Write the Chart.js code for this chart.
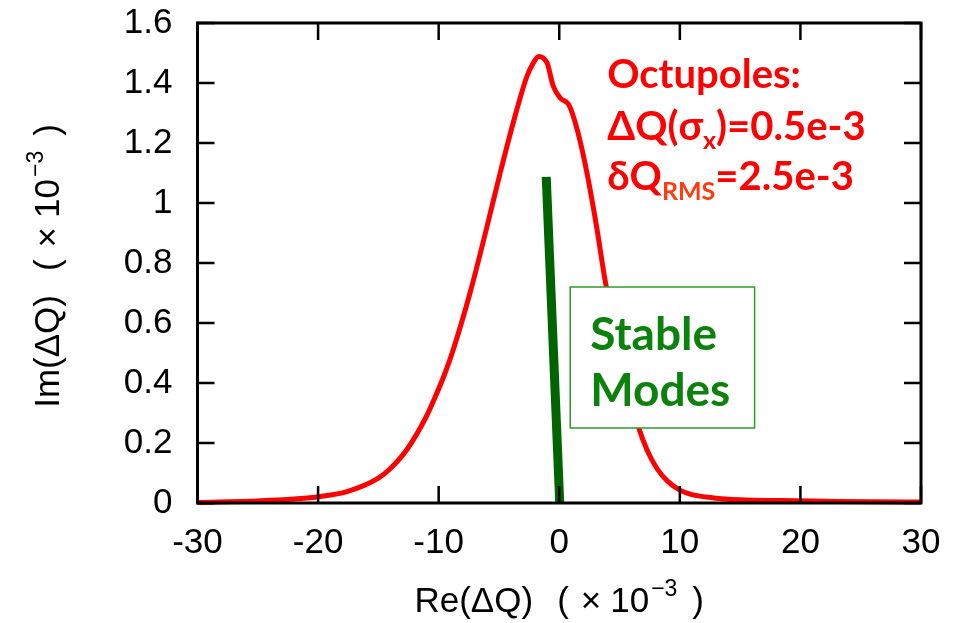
<!DOCTYPE html>
<html lang="en">
<head>
<meta charset="UTF-8">
<title>Octupole stability diagram</title>
<script src="https://cdn.jsdelivr.net/npm/chart.js@4.4.0/dist/chart.umd.min.js"></script>
<style>
  html, body { margin: 0; padding: 0; background: #fff; }
  #wrap { width: 961px; height: 623px; }
</style>
</head>
<body>
<div id="wrap"><canvas id="myChart"></canvas></div>
<script>
// stability boundary, Re / Im of dQ (x 1e-3)
var reDQ = [-30, -25, -22, -20, -17.6, -15, -14, -12.6, -11, -10.4, -9.5, -8.8, -7.4, -6.0, -4.9, -3.8, -2.7,
            -2.2, -1.7, -1.35, -1.0, -0.5, 0.1, 0.8, 1.5, 2.3, 3.1, 3.8, 4.5, 5.5, 6.6, 7.3, 8.1, 9.0, 10.0, 11.0,
            12.8, 15.0, 18.3, 22, 26, 30];
var imDQ = [0.002, 0.007, 0.013, 0.021, 0.038, 0.083, 0.115, 0.18, 0.29, 0.343, 0.43, 0.51, 0.70, 0.92, 1.10, 1.27, 1.42,
            1.463, 1.488, 1.484, 1.466, 1.39, 1.349, 1.327, 1.243, 1.10, 0.92, 0.743, 0.60, 0.42, 0.25, 0.175, 0.115, 0.072, 0.043, 0.028,
            0.017, 0.011, 0.008, 0.006, 0.004, 0.003];

// stable modes line
var modeRe = [-1.08, 0.04];
var modeIm = [1.087, 0];

var xTicks = [-30, -20, -10, 0, 10, 20, 30];
var yTicks = [0, 0.2, 0.4, 0.6, 0.8, 1, 1.2, 1.4, 1.6];

function pts(xs, ys) {
    return xs.map(function (x, i) { return { x: x, y: ys[i] }; });
}

var SANS = '"Liberation Sans", Arial, sans-serif';
var BOLD = 'Lato, "Open Sans", sans-serif';

// text runs drawn one after another (gap = extra space before the run)
function runWidth(ctx, runs) {
    var w = 0;
    runs.forEach(function (r) { ctx.font = r.font; w += (r.gap || 0) + ctx.measureText(r.t).width; });
    return w;
}
function drawRuns(ctx, x, y, runs) {
    runs.forEach(function (r) {
        x += r.gap || 0;
        ctx.font = r.font;
        ctx.fillStyle = r.color || '#000';
        ctx.fillText(r.t, x, y + (r.dy || 0));
        x += ctx.measureText(r.t).width;
    });
}
function axisTitle(name) {
    var big = '35px ' + SANS, small = '23px ' + SANS;
    return [{ t: name, font: big }, { t: '(', font: big, gap: 24 }, { t: '\u00d7', font: big, gap: 12 },
            { t: '10', font: big, gap: 9 }, { t: '\u22123', font: small, dy: -16, gap: 2 }, { t: ')', font: big, gap: 15 }];
}

var extras = {
    id: 'extras',
    afterDraw: function (chart) {
        var ctx = chart.ctx, a = chart.chartArea;
        var xs = chart.scales.x, ys = chart.scales.y;
        ctx.save();
        ctx.textBaseline = 'alphabetic';
        ctx.textAlign = 'left';

        // frame + inward ticks on all sides
        ctx.strokeStyle = '#000';
        ctx.lineWidth = 3;
        ctx.strokeRect(a.left, a.top, a.right - a.left, a.bottom - a.top);
        var tl = 17;
        ctx.lineWidth = 2.5;
        ctx.beginPath();
        xTicks.forEach(function (v) {
            var p = xs.getPixelForValue(v);
            ctx.moveTo(p, a.bottom); ctx.lineTo(p, a.bottom - tl);
            ctx.moveTo(p, a.top); ctx.lineTo(p, a.top + tl);
        });
        yTicks.forEach(function (v) {
            var p = ys.getPixelForValue(v);
            ctx.moveTo(a.left, p); ctx.lineTo(a.left + tl, p);
            ctx.moveTo(a.right, p); ctx.lineTo(a.right - tl, p);
        });
        ctx.stroke();

        // axis titles
        var xt = axisTitle('Re(\u0394Q)');
        var w = runWidth(ctx, xt);
        drawRuns(ctx, (a.left + a.right) / 2 - w / 2, 612, xt);

        var yt = axisTitle('Im(\u0394Q)');
        w = runWidth(ctx, yt);
        ctx.save();
        ctx.translate(59, 266);
        ctx.rotate(-Math.PI / 2);
        drawRuns(ctx, -w / 2, 0, yt);
        ctx.restore();

        // Octupoles note
        var red = '#ff0000', f = 'bold 40px ' + BOLD, fs = 'bold 25px ' + BOLD;
        var nx = xs.getPixelForValue(3.98);
        drawRuns(ctx, nx, ys.getPixelForValue(1.383), [{ t: 'Octupoles:', font: f, color: red }]);
        drawRuns(ctx, nx, ys.getPixelForValue(1.21), [
            { t: '\u0394Q(\u03c3', font: f, color: red },
            { t: 'x', font: fs, color: red, dy: 9 },
            { t: ')=0.5e-3', font: f, color: red }]);
        drawRuns(ctx, nx, ys.getPixelForValue(1.043), [
            { t: '\u03b4Q', font: f, color: red },
            { t: 'RMS', font: fs, color: '#ff3a10', dy: 10 },
            { t: '=2.5e-3', font: f, color: red }]);

        // Stable Modes box
        var bx0 = xs.getPixelForValue(0.91), bx1 = xs.getPixelForValue(16.2);
        var by0 = ys.getPixelForValue(0.72), by1 = ys.getPixelForValue(0.25);
        ctx.fillStyle = '#fff';
        ctx.fillRect(bx0, by0, bx1 - bx0, by1 - by0);
        ctx.strokeStyle = '#2e9a2e';
        ctx.lineWidth = 1.5;
        ctx.strokeRect(bx0, by0, bx1 - bx0, by1 - by0);
        var g = 'bold 46px ' + BOLD;
        drawRuns(ctx, bx0 + 20, by0 + 63, [{ t: 'Stable', font: g, color: '#0b820b' }]);
        drawRuns(ctx, bx0 + 20, by0 + 119, [{ t: 'Modes', font: g, color: '#0b820b' }]);
        ctx.restore();
    }
};

var ctx = document.getElementById('myChart').getContext('2d');
var chart = new Chart(ctx, {
    type: 'line',
    data: {
        datasets: [{
            label: 'Stability boundary',
            data: pts(reDQ, imDQ),
            borderColor: '#ff0000',
            borderWidth: 5,
            pointRadius: 0,
            tension: 0.4,
            cubicInterpolationMode: 'monotone',
            fill: false,
            clip: false
        }, {
            label: 'Stable modes',
            data: pts(modeRe, modeIm),
            borderColor: '#006400',
            borderWidth: 9,
            pointRadius: 0,
            fill: false,
            clip: false
        }]
    },
    options: {
        responsive: true,
        maintainAspectRatio: false,
        animation: false,
        layout: { padding: { top: 23, right: 40, left: 0, bottom: 0 } },
        plugins: { legend: { display: false }, tooltip: { enabled: false } },
        scales: {
            x: {
                type: 'linear', min: -30, max: 30,
                afterBuildTicks: function (s) { s.ticks = xTicks.map(function (v) { return { value: v }; }); },
                afterFit: function (s) { s.height = 120; s.paddingLeft = 0; s.paddingRight = 0; },
                grid: { display: false, drawTicks: false },
                border: { display: false },
                ticks: {
                    autoSkip: false, maxRotation: 0, padding: 19, color: '#000',
                    font: { family: SANS, size: 35 },
                    callback: function (v) { return String(v); }
                }
            },
            y: {
                type: 'linear', min: 0, max: 1.6,
                afterBuildTicks: function (s) { s.ticks = yTicks.map(function (v) { return { value: v }; }); },
                afterFit: function (s) { s.width = 197.5; s.paddingTop = 0; s.paddingBottom = 0; },
                grid: { display: false, drawTicks: false },
                border: { display: false },
                ticks: {
                    autoSkip: false, padding: 25, color: '#000',
                    font: { family: SANS, size: 35 },
                    callback: function (v) { return String(+v.toFixed(1)); }
                }
            }
        }
    },
    plugins: [extras]
});
</script>
</body>
</html>
